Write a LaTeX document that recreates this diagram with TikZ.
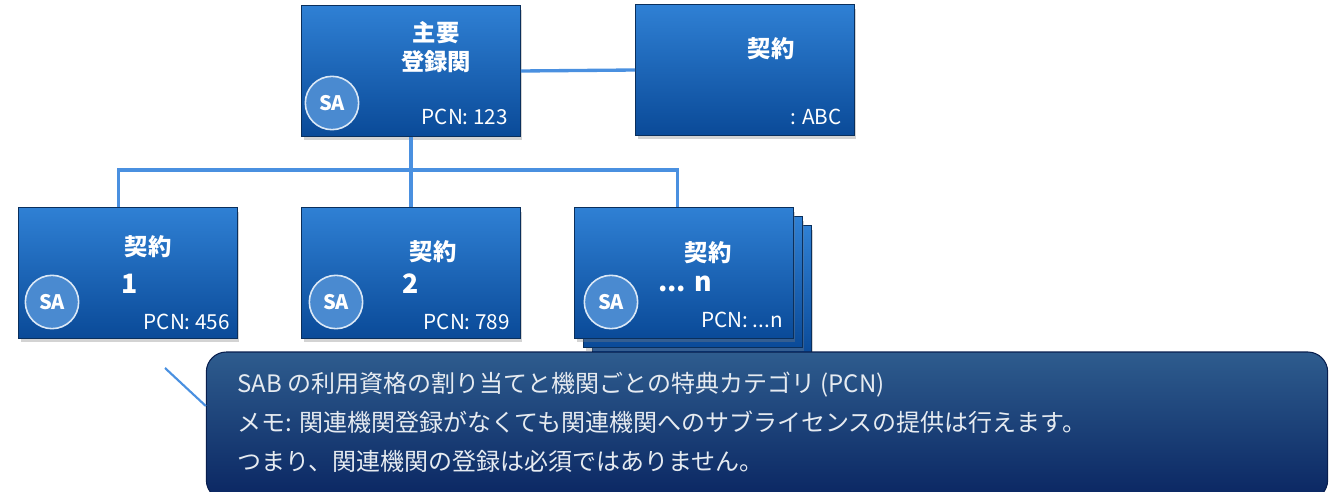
\documentclass[tikz,border=0pt]{standalone}
\usepackage{fontspec}
\setmainfont{Noto Sans CJK JP}
\usetikzlibrary{shadows}

\definecolor{boxtop}{HTML}{2F80D4}
\definecolor{boxbot}{HTML}{0A4A98}
\definecolor{boxline}{HTML}{0A2F5C}
\definecolor{linkblue}{HTML}{4A90E0}
\definecolor{notetop}{HTML}{2E5C8E}
\definecolor{notebot}{HTML}{0A2662}
\definecolor{badgeblue}{HTML}{4A8AD0}

\tikzset{
  orgbox/.style={rectangle, draw=boxline, line width=0.8pt,
    top color=boxtop, bottom color=boxbot,
    minimum width=164pt, minimum height=98pt,
    drop shadow={shadow xshift=1.5pt, shadow yshift=-3pt, opacity=0.35}},
  badge/.style={circle, draw=white!80!badgeblue, line width=1.2pt,
    fill=badgeblue, minimum size=40pt, inner sep=0pt,
    text=white, font=\bfseries\fontsize{15}{15}\selectfont},
  title/.style={text=white, font=\bfseries\fontsize{17.5}{22}\selectfont, align=center},
  bignum/.style={text=white, font=\bfseries\fontsize{20}{20}\selectfont},
  pcn/.style={text=white, anchor=east, inner sep=0pt,
    font=\fontsize{15.5}{15.5}\selectfont},
  link/.style={linkblue, line width=2.5pt},
  note/.style={rectangle, rounded corners=15pt, draw=notebot!80!black,
    line width=0.8pt, top color=notetop, bottom color=notebot,
    minimum width=841pt, minimum height=111pt},
}

\begin{document}
\begin{tikzpicture}[x=0.75pt, y=-0.75pt]
  \useasboundingbox (0,0) rectangle (1330,492);
  \clip (0,0) rectangle (1330,492);

  % top row
  \node[orgbox] (main) at (411,71) {};
  \node[orgbox] (contract) at (745,70) {};
  \node[title] (maintitle) at (436,47) {主要\\登録関};
  \node[badge] (mainsa) at (332,103) {SA};
  \node[pcn] (mainpcn) at (508,117) {PCN: 123};
  \node[title] (contracttitle) at (771,49) {契約};
  \node[pcn] (contractpcn) at (842,117) {: ABC};

  % bottom row (stack behind the last one)
  \node[orgbox] (box3c) at (702,291) {};
  \node[orgbox] (box3b) at (693,282) {};
  \node[orgbox] (box1) at (128,273) {};
  \node[orgbox] (box2) at (411,273) {};
  \node[orgbox] (box3) at (684,273) {};

  \node[title] (t1) at (148,247) {契約};
  \node[bignum] (n1) at (130,284) {1};
  \node[badge] (sa1) at (52,302) {SA};
  \node[pcn] (pcn1) at (230,322) {PCN: 456};

  \node[title] (t2) at (433,252) {契約};
  \node[bignum] (n2) at (411,284) {2};
  \node[badge] (sa2) at (336,302) {SA};
  \node[pcn] (pcn2) at (510,322) {PCN: 789};

  \node[title] (t3) at (708,253) {契約};
  \node[bignum] (n3) at (685,284) {... n};
  \node[badge] (sa3) at (611,302) {SA};
  \node[pcn] (pcn3) at (783,320) {PCN: ...n};

  % connectors
  \coordinate (bus) at (0,170);
  \draw[link] (main.east) -- (contract.west);
  \draw[link] (main.south) -- (main.south |- bus);
  \draw[link] ([xshift=-7pt]box1.north) |- ([xshift=-5pt]bus -| box3.north)
    -- ([xshift=-5pt]box3.north);
  \draw[link] (box2.north) -- (box2.north |- bus);

  % callout
  \node[note] (note) at (767,426) {};
  \node[text=white!88!notetop, anchor=north west, align=left, inner sep=0pt,
    font=\fontsize{18}{29.25}\selectfont] (notetext) at (237,372)
    {SAB の利用資格の割り当てと機関ごとの特典カテゴリ (PCN)\\
     メモ: 関連機関登録がなくても関連機関へのサブライセンスの提供は行えます。\\
     つまり、関連機関の登録は必須ではありません。};
  \coordinate (tail) at (165,368);
  \draw[linkblue, line width=1.6pt] (tail) -- ([yshift=15pt]note.west);
\end{tikzpicture}
\end{document}
